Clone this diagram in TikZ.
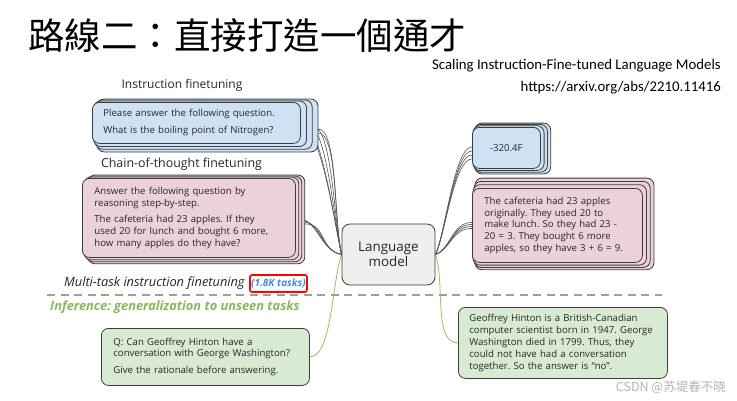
\documentclass[tikz,border=0pt]{standalone}
\usepackage{fontspec}
\setmainfont{Open Sans}
\newfontfamily\cjktc{Noto Sans CJK TC}
\newfontfamily\cjksc{Noto Sans CJK SC}
\newfontfamily\hdrfont{Carlito}
\usetikzlibrary{calc}
\frenchspacing
\pgfdeclarelayer{wires}
\pgfdeclarelayer{cards}
\pgfsetlayers{wires,cards,main}
\definecolor{bfill}{HTML}{CFE2F3}
\definecolor{pfill}{HTML}{EAD1DC}
\definecolor{gfill}{HTML}{D9EAD3}
\definecolor{lmfill}{HTML}{EFEFEF}
\definecolor{edge}{HTML}{3C3C3C}
\definecolor{txt}{HTML}{262626}
\definecolor{wirecol}{HTML}{555555}
\definecolor{grncurve}{HTML}{8FC46E}
\definecolor{infgreen}{HTML}{86B95F}
\definecolor{dashgray}{HTML}{9E9E9E}
\definecolor{tasksblue}{HTML}{4A86E8}
\definecolor{wmgray}{HTML}{B4B4B4}
\tikzset{
  cardline/.style={draw=edge, line width=0.8pt, rounded corners=7pt},
  card/.style={cardline, inner ysep=0pt, anchor=north west, align=left, text=txt, font=\fontsize{9.6}{11.9}\selectfont},
  wire/.style={draw=wirecol, line width=0.6pt},
  gwire/.style={draw=grncurve, line width=0.8pt},
  lbl/.style={text=txt, inner sep=0pt},
}
\newcommand\backcards[6]{%
  \begin{pgfonlayer}{cards}
  \foreach \k in {3,2,1}{%
    \path[cardline, fill=#2] ($(#1.north west)+({#3*\k},{#4*\k})$) rectangle ($(#1.south east)+({#5*\k},{#6*\k})$);
  }%
  \end{pgfonlayer}}
\begin{document}
\begin{tikzpicture}[x=1pt,y=-1pt]
\begin{pgfonlayer}{wires}
\fill[white] (0,0) rectangle (737,400);
\end{pgfonlayer}
\useasboundingbox (0,0) rectangle (737,400);

% title and reference
\node[lbl, text=black, anchor=base west, font=\cjktc\fontsize{36.5}{40}\selectfont] (title) at (28,49) {路線二：直接打造一個通才};
\node[lbl, text=black, anchor=east, font=\hdrfont\fontsize{14.8}{17}\selectfont] (paper) at (721,66) {Scaling Instruction-Fine-tuned Language Models};
\node[lbl, text=black, anchor=east, font=\hdrfont\fontsize{14.8}{17}\selectfont] (url) at (721,88) {https://arxiv.org/abs/2210.11416};

% labels
\node[lbl, font=\fontsize{12}{14}\selectfont] (l1) at (182,85) {Instruction finetuning};
\node[lbl, font=\fontsize{12.4}{14}\selectfont] (l2) at (181.5,164) {Chain-of-thought finetuning};
\node[lbl, anchor=west, font=\itshape\fontsize{12.8}{15}\selectfont] (l3) at (64,283) {Multi-task instruction finetuning};
\node[draw=red, line width=1.6pt, rounded corners=2pt, inner sep=1pt, text=tasksblue, font=\bfseries\itshape\fontsize{10}{12}\selectfont, minimum width=57pt, minimum height=17pt] (tasks) at (278.5,283.5) {(1.8K tasks)};
\node[lbl, anchor=west, text=infgreen, font=\bfseries\itshape\fontsize{12.8}{15}\selectfont] (l4) at (50,307) {Inference: generalization to unseen tasks};

% cards
\node[card, fill=bfill, text width=186pt, inner xsep=11pt, minimum height=41pt] (inst) at (92,102) {Please answer the following question.\\[5pt]What is the boiling point of Nitrogen?};
\backcards{inst}{bfill}{1.7}{-1}{5.7}{2.7}

\node[card, fill=pfill, text width=189pt, inner xsep=12pt, minimum height=79pt] (cot) at (82,178) {Answer the following question by\\reasoning step-by-step.\\[5pt]The cafeteria had 23 apples. If they\\used 20 for lunch and bought 6 more,\\how many apples do they have?};
\backcards{cot}{pfill}{2}{-1}{3}{2}

\node[cardline, rounded corners=8pt, fill=lmfill, minimum width=93pt, minimum height=61pt, align=center, text=txt, inner sep=0pt, font=\fontsize{13.4}{15.5}\selectfont] (lm) at (388.5,254.5) {Language\\model};

\node[card, fill=bfill, minimum width=68pt, minimum height=41pt, align=center, inner xsep=0pt] (ans1) at (472,127) {-320.4F};
\backcards{ans1}{bfill}{1}{-1.3}{3.3}{1.7}

\node[card, fill=pfill, text width=146pt, inner xsep=12pt, minimum height=74pt] (ans2) at (472,188) {The cafeteria had 23 apples\\originally. They used 20 to\\make lunch. So they had 23 -\\20 = 3. They bought 6 more\\apples, so they have 3 + 6 = 9.};
\backcards{ans2}{pfill}{1}{-3.3}{3.7}{2.3}

\node[card, fill=gfill, text width=184pt, inner xsep=12pt, minimum height=57pt] (q) at (101,328) {Q: Can Geoffrey Hinton have a\\conversation with George Washington?\\[5pt]Give the rationale before answering.};
\node[card, fill=gfill, text width=187pt, inner xsep=11pt, minimum height=71pt] (a) at (458,307) {Geoffrey Hinton is a British-Canadian\\computer scientist born in 1947. George\\Washington died in 1799. Thus, they\\could not have had a conversation\\together. So the answer is “no”.};

% connectors
\begin{pgfonlayer}{wires}
\foreach \k/\dy in {0/-2,0/3,1/0,2/3,3/6,3/10}{
  \draw[wire] ($(inst.east)+({5.7*\k},\dy)$) .. controls +(20,0) and +(-8,-35) .. (lm.west);
}
\foreach \k/\dy in {0/0,1/2,2/4,3/6}{
  \draw[wire] ($(cot.east)+({3*\k},\dy)$) .. controls +(22,0) and +(-22,-4) .. (lm.west);
}
\foreach \dy in {-1,3,7,11}{
  \draw[wire] (lm.east) .. controls +(10,-20) and +(-18,0) .. ($(ans1.west)+(0,\dy)$);
}
\foreach \dy in {-3,-1,1,3}{
  \draw[wire] (lm.east) .. controls +(15,-5) and +(-20,0) .. ($(ans2.west)+(0,\dy)$);
}
\draw[gwire] (lm.west) .. controls +(-10,30) and +(22,0) .. (q.east);
\draw[gwire] (lm.east) .. controls +(10,30) and +(-25,0) .. (a.west);
\end{pgfonlayer}

\coordinate (dashL) at (47,295);
\coordinate (dashR) at (662,295);
\draw[dash pattern=on 8pt off 5.5pt, line width=1.8pt, draw=dashgray] (dashL) -- (dashR);

\node[lbl, text=wmgray, anchor=east, font=\cjksc\fontsize{12.5}{15}\selectfont] (wm) at (726,387) {CSDN @苏堤春不晓};
\end{tikzpicture}
\end{document}
